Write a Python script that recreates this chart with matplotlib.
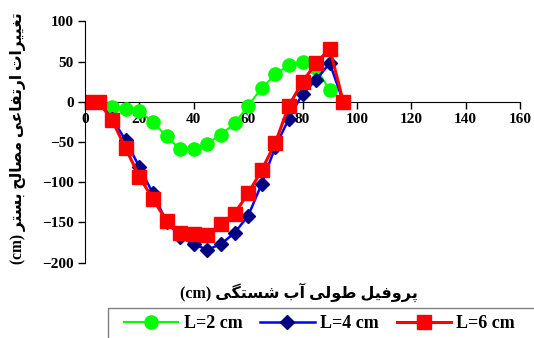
import matplotlib
matplotlib.use("Agg")
import matplotlib.pyplot as plt
from matplotlib.patches import Rectangle

# --- Data ---
distance = [0, 5, 10, 15, 20, 25, 30, 35, 40, 45, 50, 55, 60, 65, 70, 75, 80, 85, 90, 95]
l2_cm = [0, 0, -6, -9, -12, -25, -43, -59, -59, -52, -41, -27, -5, 17, 34, 46, 49, 42, 14, 0]
l4_cm = [0, 0, -21, -48, -81, -114, -149, -168, -177, -184, -177, -163, -142, -102, -56, -21, 10, 27, 48, 0]
l6_cm = [0, 0, -23, -58, -93, -121, -148, -163, -164, -166, -152, -139, -114, -85, -51, -5, 25, 48, 66, 0]

series_labels = ['L=2 cm', 'L=4 cm', 'L=6 cm']
x_ticks = [0, 20, 40, 60, 80, 100, 120, 140, 160]
y_ticks = [-200, -150, -100, -50, 0, 50, 100]

xlabel_fa = 'پروفیل طولی آب شستگی'
ylabel_fa = 'تغییرات ارتفاعی مصالح بستر'

# matplotlib has no Arabic shaping, so map letters to their joined
# presentation forms (isolated, final, initial, medial) and reverse for RTL.
FORMS = {
    'ا': ('\uFE8D', '\uFE8E', None, None),
    'آ': ('\uFE81', '\uFE82', None, None),
    'ب': ('\uFE8F', '\uFE90', '\uFE91', '\uFE92'),
    'ت': ('\uFE95', '\uFE96', '\uFE97', '\uFE98'),
    'ح': ('\uFEA1', '\uFEA2', '\uFEA3', '\uFEA4'),
    'ر': ('\uFEAD', '\uFEAE', None, None),
    'س': ('\uFEB1', '\uFEB2', '\uFEB3', '\uFEB4'),
    'ش': ('\uFEB5', '\uFEB6', '\uFEB7', '\uFEB8'),
    'ص': ('\uFEB9', '\uFEBA', '\uFEBB', '\uFEBC'),
    'ط': ('\uFEC1', '\uFEC2', '\uFEC3', '\uFEC4'),
    'ع': ('\uFEC9', '\uFECA', '\uFECB', '\uFECC'),
    'غ': ('\uFECD', '\uFECE', '\uFECF', '\uFED0'),
    'ف': ('\uFED1', '\uFED2', '\uFED3', '\uFED4'),
    'ل': ('\uFEDD', '\uFEDE', '\uFEDF', '\uFEE0'),
    'م': ('\uFEE1', '\uFEE2', '\uFEE3', '\uFEE4'),
    'و': ('\uFEED', '\uFEEE', None, None),
    'پ': ('\uFB56', '\uFB57', '\uFB58', '\uFB59'),
    'گ': ('\uFB92', '\uFB93', '\uFB94', '\uFB95'),
    'ی': ('\uFBFC', '\uFBFD', '\uFBFE', '\uFBFF'),
}


def rtl(text):
    out = []
    for i, ch in enumerate(text):
        if ch not in FORMS:
            out.append(ch)
            continue
        prev = text[i - 1] if i > 0 else None
        nxt = text[i + 1] if i + 1 < len(text) else None
        from_prev = prev in FORMS and FORMS[prev][2] is not None
        to_next = nxt in FORMS and FORMS[ch][2] is not None
        iso, fin, ini, med = FORMS[ch]
        if from_prev and to_next:
            out.append(med)
        elif from_prev:
            out.append(fin)
        elif to_next:
            out.append(ini)
        else:
            out.append(iso)
    return ''.join(out)[::-1]


font_fam = ['Liberation Serif', 'DejaVu Sans']

fig = plt.figure(figsize=(5.34, 3.38), dpi=100)
ax = fig.add_axes([0.159, 0.223, 0.815, 0.714])

ax.plot(distance, l2_cm, color='#00FF00', lw=1.5, marker='o', ms=9.5,
        mec='#00FF00', mfc='#00FF00', label=series_labels[0])
ax.plot(distance, l4_cm, color='#0000FF', lw=1.8, marker='D', ms=7.5,
        mec='#000080', mfc='#000080', label=series_labels[1])
ax.plot(distance, l6_cm, color='#FF0000', lw=2.2, marker='s', ms=9.5,
        mec='#FF0000', mfc='#FF0000', label=series_labels[2])

ax.set_xlim(0, 160)
ax.set_ylim(-200, 100)
ax.set_xticks(x_ticks)
ax.set_yticks(y_ticks)

ax.spines['top'].set_visible(False)
ax.spines['right'].set_visible(False)
ax.spines['bottom'].set_position(('data', 0))
ax.spines['bottom'].set_zorder(1)
ax.tick_params(direction='out', length=5, width=1, pad=3)
for lbl in ax.get_xticklabels() + ax.get_yticklabels():
    lbl.set_family(font_fam)
    lbl.set_fontweight('bold')
    lbl.set_fontsize(11)

# axis titles
fig.text(299 / 534, 1 - 292 / 338, '(cm) ' + rtl(xlabel_fa), ha='center', va='center',
         family=font_fam, fontweight='bold', fontsize=11.5)
fig.text(18 / 534, 1 - 138 / 338, '(cm) ' + rtl(ylabel_fa), ha='center', va='center',
         rotation=90, family=font_fam, fontweight='bold', fontsize=11.2)

# legend box runs off the right and bottom edge like the reference
fig.patches.append(Rectangle((107.7 / 534, -0.05), 0.9, 1 - 307.7 / 338 + 0.05,
                             transform=fig.transFigure, fill=False,
                             edgecolor='#808080', lw=1))
leg = fig.legend(loc='center left', bbox_to_anchor=(124 / 534, 1 - 324 / 338), ncol=3,
                 frameon=False, handlelength=3.0, handletextpad=0.3, columnspacing=1.0,
                 borderpad=0, borderaxespad=0,
                 prop={'family': font_fam, 'weight': 'bold', 'size': 13})

fig.savefig('out.png', dpi=100)
